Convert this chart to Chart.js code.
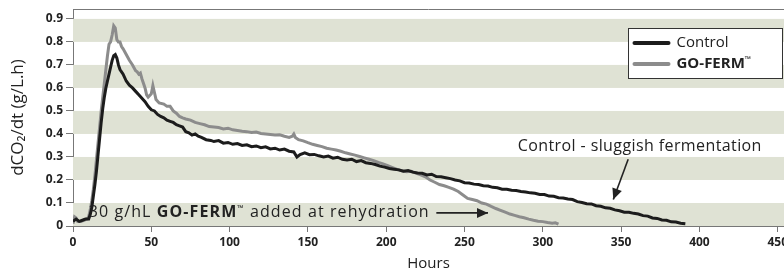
<!DOCTYPE html>
<html><head><meta charset="utf-8">
<script src="https://cdn.jsdelivr.net/npm/chart.js@4.4.0/dist/chart.umd.min.js"></script>
<style>html,body{margin:0;padding:0;background:#fff}#wrap{width:784px;height:273px}</style>
</head><body><div id="wrap"><canvas id="c" width="784" height="273"></canvas></div>
<script>
const controlHours = [0,2,4,6,8,10,11,12,13,14,15,16,17,18,19,20,21,22,23,24,25,26,27,28,29,30,32,34,36,38,40,42,44,46,48,50,52,54,56,58,60,62,64,66,68,70,72,74,76,78,80,82,85,88,90,93,96,99,102,105,108,111,114,117,120,123,126,129,132,135,138,141,143,145,148,151,154,157,160,163,166,169,172,175,178,181,184,187,190,193,196,199,202,205,208,211,214,217,220,223,226,229,232,235,238,241,244,247,250,253,256,259,262,265,268,271,274,277,280,283,286,289,292,295,298,301,304,307,310,313,316,319,322,325,328,331,334,337,340,343,346,349,352,355,358,361,364,367,370,373,376,379,382,385,388,391];
const controlValues = [0.02,0.03,0.02,0.025,0.03,0.03,0.05,0.08,0.13,0.18,0.24,0.31,0.38,0.45,0.51,0.56,0.6,0.63,0.66,0.69,0.72,0.74,0.745,0.73,0.7,0.68,0.66,0.63,0.612,0.6,0.585,0.57,0.555,0.54,0.52,0.505,0.5,0.485,0.476,0.47,0.46,0.455,0.45,0.44,0.435,0.43,0.41,0.405,0.395,0.4,0.39,0.385,0.375,0.372,0.367,0.371,0.36,0.363,0.355,0.358,0.35,0.353,0.345,0.348,0.34,0.344,0.335,0.338,0.33,0.334,0.325,0.322,0.3,0.31,0.318,0.31,0.311,0.305,0.3,0.304,0.295,0.299,0.29,0.287,0.29,0.28,0.284,0.275,0.272,0.267,0.26,0.256,0.25,0.247,0.244,0.238,0.241,0.234,0.23,0.229,0.222,0.225,0.215,0.214,0.21,0.206,0.2,0.196,0.188,0.187,0.182,0.18,0.175,0.174,0.168,0.166,0.16,0.16,0.155,0.154,0.15,0.148,0.144,0.142,0.137,0.137,0.13,0.129,0.123,0.122,0.117,0.115,0.106,0.102,0.097,0.096,0.088,0.086,0.079,0.077,0.07,0.066,0.06,0.06,0.055,0.052,0.045,0.043,0.035,0.033,0.026,0.025,0.018,0.017,0.012,0.01];
const gofermHours = [0,1,2,3,5,7,9,10,11,12,13,14,15,16,17,18,19,20,21,22,23,24,25,26,27,28,29,30,31,32,34,36,38,40,41,42,43,44,46,47,48,50,51,52,53,55,58,60,62,64,66,68,70,72,75,78,81,84,87,90,93,96,99,102,105,108,111,114,117,120,123,126,129,132,135,138,140,141,142,144,147,150,153,156,159,162,165,168,171,174,177,180,183,186,189,192,195,198,201,204,207,210,213,216,219,222,225,228,231,234,237,240,243,246,249,252,255,258,261,264,267,270,273,276,279,282,285,288,291,294,297,300,303,306,308,310];
const gofermValues = [0.01,0.04,0.035,0.02,0.02,0.025,0.03,0.04,0.07,0.11,0.16,0.22,0.29,0.36,0.43,0.5,0.56,0.62,0.68,0.74,0.79,0.8,0.83,0.87,0.86,0.81,0.8,0.8,0.78,0.77,0.745,0.72,0.7,0.675,0.67,0.66,0.665,0.64,0.6,0.57,0.56,0.575,0.61,0.58,0.55,0.535,0.53,0.52,0.52,0.5,0.49,0.476,0.47,0.465,0.46,0.45,0.445,0.44,0.432,0.43,0.428,0.422,0.425,0.418,0.415,0.412,0.41,0.406,0.408,0.402,0.4,0.398,0.395,0.396,0.39,0.385,0.39,0.4,0.385,0.375,0.37,0.362,0.355,0.35,0.345,0.338,0.334,0.33,0.325,0.318,0.313,0.308,0.302,0.296,0.29,0.284,0.276,0.27,0.262,0.254,0.246,0.24,0.236,0.238,0.23,0.222,0.214,0.2,0.19,0.18,0.175,0.168,0.16,0.15,0.135,0.12,0.115,0.11,0.1,0.095,0.085,0.076,0.068,0.06,0.052,0.046,0.04,0.036,0.03,0.025,0.021,0.019,0.015,0.012,0.014,0.008];
const xTickValues = [0,50,100,150,200,250,300,350,400,450];
const yTickValues = [0,0.1,0.2,0.3,0.4,0.5,0.6,0.7,0.8,0.9];
const seriesNames = ['Control', 'GO-FERM™'];

const FONT = '"Open Sans", Roboto, sans-serif';
const toPts = (xs, ys) => xs.map((x, i) => ({x: x, y: ys[i]}));

const bandsPlugin = {
  id: 'bands',
  beforeDatasetsDraw(chart) {
    const {ctx, chartArea: a, scales: {y}} = chart;
    ctx.save();
    ctx.fillStyle = '#dfe2d4';
    for (let i = 0; i + 1 < yTickValues.length; i += 2) {
      const y0 = y.getPixelForValue(yTickValues[i]), y1 = y.getPixelForValue(yTickValues[i + 1]);
      ctx.fillRect(a.left, y1, a.right - a.left, y0 - y1);
    }
    ctx.strokeStyle = '#777';
    ctx.lineWidth = 1;
    ctx.beginPath(); ctx.moveTo(a.left, a.top + 0.5); ctx.lineTo(a.right, a.top + 0.5); ctx.stroke();
    ctx.restore();
  }
};

function arrow(ctx, x0, y0, x1, y1) {
  ctx.beginPath(); ctx.moveTo(x0, y0); ctx.lineTo(x1, y1); ctx.stroke();
  const ang = Math.atan2(y1 - y0, x1 - x0), L = 11, W = 5;
  ctx.beginPath();
  ctx.moveTo(x1, y1);
  ctx.lineTo(x1 - L * Math.cos(ang) + W * Math.sin(ang), y1 - L * Math.sin(ang) - W * Math.cos(ang));
  ctx.lineTo(x1 - L * Math.cos(ang) - W * Math.sin(ang), y1 - L * Math.sin(ang) + W * Math.cos(ang));
  ctx.closePath(); ctx.fill();
}

const notesPlugin = {
  id: 'notes',
  afterDatasetsDraw(chart) {
    const {ctx, scales: {x, y}} = chart;
    ctx.save();
    ctx.fillStyle = '#222'; ctx.strokeStyle = '#222'; ctx.lineWidth = 1.6;
    ctx.textBaseline = 'middle';
    ctx.font = '16px ' + FONT;
    ctx.letterSpacing = '0.4px';
    ctx.fillText('Control - sluggish fermentation', x.getPixelForValue(284), y.getPixelForValue(0.344));
    arrow(ctx, x.getPixelForValue(354.5), y.getPixelForValue(0.29), x.getPixelForValue(345), y.getPixelForValue(0.115));
    // bottom note
    let px = x.getPixelForValue(10), py = y.getPixelForValue(0.057);
    ctx.letterSpacing = '1.1px';
    const parts = [['30 g/hL ', '16px '], ['GO-FERM', 'bold 16px '], ['™', 'bold 8px '], [' added at rehydration', '16px ']];
    for (const [t, f] of parts) {
      ctx.font = f + FONT;
      ctx.fillText(t, px, f.startsWith('bold 8') ? py - 4 : py);
      px += ctx.measureText(t).width;
    }
    ctx.letterSpacing = '0px';
    arrow(ctx, x.getPixelForValue(232), py, x.getPixelForValue(265), py);
    // legend
    const lx = 628.5, ly = 28.5, lw = 154, lh = 50;
    ctx.fillStyle = '#fff'; ctx.fillRect(lx, ly, lw, lh);
    ctx.strokeStyle = '#333'; ctx.lineWidth = 1; ctx.strokeRect(lx, ly, lw, lh);
    const cols = ['#1c1c1c', '#8c8c8c'];
    seriesNames.forEach((n, i) => {
      const yy = ly + 14.5 + i * 21;
      ctx.strokeStyle = cols[i]; ctx.lineWidth = 4; ctx.lineCap = 'round';
      ctx.beginPath(); ctx.moveTo(lx + 6, yy); ctx.lineTo(lx + 40, yy); ctx.stroke();
      ctx.fillStyle = '#222';
      if (i === 0) { ctx.font = '15px ' + FONT; ctx.fillText(n, lx + 48, yy); }
      else {
        ctx.font = 'bold 15px ' + FONT; ctx.fillText('GO-FERM', lx + 48, yy);
        const w = ctx.measureText('GO-FERM').width;
        ctx.font = 'bold 8px ' + FONT; ctx.fillText('™', lx + 48 + w, yy - 4);
      }
    });
    ctx.restore();
  }
};

new Chart(document.getElementById('c'), {
  type: 'scatter',
  data: {
    datasets: [
      {label: seriesNames[1], data: toPts(gofermHours, gofermValues), showLine: true, borderColor: '#8c8c8c', borderWidth: 3, pointRadius: 0, tension: 0, order: 2},
      {label: seriesNames[0], data: toPts(controlHours, controlValues), showLine: true, borderColor: '#1c1c1c', borderWidth: 3, pointRadius: 0, tension: 0, order: 1}
    ]
  },
  options: {
    responsive: false, animation: false, devicePixelRatio: 1,
    layout: {padding: {top: 9, right: 0, left: 0, bottom: 0}},
    plugins: {legend: {display: false}, tooltip: {enabled: false}},
    scales: {
      x: {
        type: 'linear', min: 0, max: 454,
        afterBuildTicks(s) { s.ticks = xTickValues.map(v => ({value: v})); },
        ticks: {color: '#222', font: {family: FONT, size: 12, weight: 'bold'}, padding: 3, maxRotation: 0, autoSkip: false},
        grid: {drawOnChartArea: false, drawTicks: true, tickLength: 6, color: '#777'},
        border: {color: '#777', width: 1},
        title: {display: true, text: 'Hours', color: '#222', font: {family: FONT, size: 15}, padding: {top: 0, bottom: 0}},
        afterFit(s) { s.height = 47; s.paddingLeft = 0; s.paddingRight = 0; }
      },
      y: {
        type: 'linear', min: 0, max: 0.943,
        afterBuildTicks(s) { s.ticks = yTickValues.map(v => ({value: v})); },
        ticks: {color: '#222', font: {family: FONT, size: 12, weight: 'bold'}, padding: 3, autoSkip: false,
          callback: v => v === 0 ? '0' : v.toFixed(1)},
        grid: {drawOnChartArea: false, drawTicks: true, tickLength: 7, color: '#777'},
        border: {color: '#777', width: 1},
        title: {display: true, text: 'dCO₂/dt (g/L.h)', color: '#222', font: {family: FONT, size: 17}, padding: {top: 8, bottom: 0}},
        afterFit(s) { s.width = 73; s.paddingTop = 0; s.paddingBottom = 0; }
      }
    }
  },
  plugins: [bandsPlugin, notesPlugin]
});
</script></body></html>
